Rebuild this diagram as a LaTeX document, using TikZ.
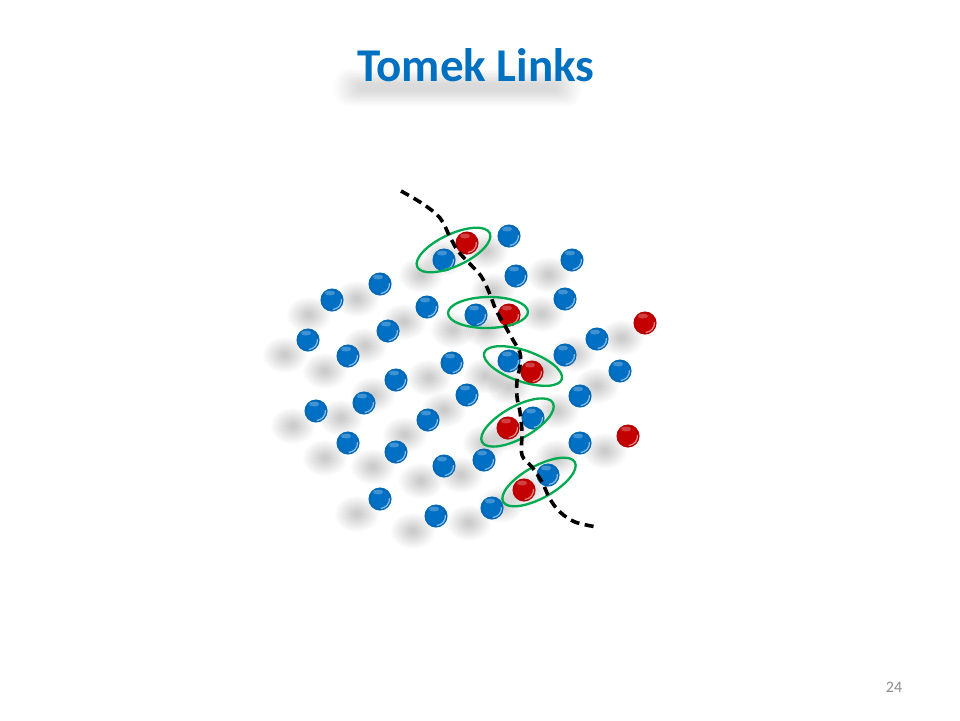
\documentclass[tikz,border=0pt]{standalone}
\usepackage{fontspec}
\setmainfont{Carlito}
\definecolor{titleblue}{RGB}{0,112,192}
\definecolor{ballblue}{RGB}{0,112,196}
\definecolor{ballred}{RGB}{196,0,0}
\definecolor{linkgreen}{RGB}{0,170,80}
\definecolor{pagegray}{RGB}{140,140,140}
\newcommand\myshadow[2]{%
  \foreach \r in {4,6,...,22}{\fill[black,opacity=0.02] ({#1-23},{#2+15}) ellipse ({\r} and {\r*0.8});}}
\newcommand\myball[3]{%
  \fill[#3] (#1,#2) circle (11.5);
  \fill[#3!80!black,opacity=0.35,even odd rule] (#1,#2) circle (11.5) (#1,#2) circle (9.5);
  \draw[white,opacity=0.55,line width=1.2pt] ({#1+9.5*cos(-5)},{#2+9.5*sin(-5)}) arc[start angle=-5,end angle=85,radius=9.5];
  \fill[white,opacity=0.25] ({#1-2},{#2-7}) ellipse (5 and 2.5);}
\tikzset{linkellipse/.style={draw=linkgreen,line width=2.3pt},
  boundary/.style={draw=black,line width=3.6pt,dash pattern=on 9pt off 5.5pt}}
\begin{document}
\begin{tikzpicture}[x=1pt,y=-1pt]
\useasboundingbox[fill=white] (0,0) rectangle (960,720);
% title shadow (blurred band)
\foreach \i in {0,1,...,11}{
  \fill[black,opacity=0.012,rounded corners={15-\i}] ({334+2.2*\i},{69+1.3*\i}) rectangle ({582-2.2*\i},{106-1.3*\i});}
\node (title) [anchor=base,font=\fontsize{47}{47}\selectfont\bfseries,text=titleblue] at (476,81) {Tomek Links};
\node (page) [anchor=base,font=\fontsize{16}{16}\selectfont,text=pagegray] at (894,692) {24};
% shadows
\foreach \x/\y in {509/236,572/260,516/276,444/260,380/284,332/300,427/307,476/315,565/299,
  308/340,388/331,348/356,452/363,509/361,565/355,597/339,620/371,396/380,467/395,580/396,
  316/411,364/403,428/420,533/418,348/443,396/452,444/466,484/460,580/443,548/475,380/499,
  436/516,492/508,467/243,509/315,532/372,508/428,524/490,645/323,628/436}{\myshadow{\x}{\y}}
% blue balls
\foreach \x/\y in {509/236,572/260,516/276,444/260,380/284,332/300,427/307,476/315,565/299,
  308/340,388/331,348/356,452/363,509/361,565/355,597/339,620/371,396/380,467/395,580/396,
  316/411,364/403,428/420,533/418,348/443,396/452,444/466,484/460,580/443,548/475,380/499,
  436/516,492/508}{\myball{\x}{\y}{ballblue}}
% red balls
\foreach \x/\y in {467/243,509/315,532/372,508/428,524/490,645/323,628/436}{\myball{\x}{\y}{ballred}}
% Tomek link ellipses
\draw[linkellipse,rotate around={25:(453.5,250)}] (453.5,250) ellipse [x radius=40,y radius=16];
\draw[linkellipse,rotate around={1:(488,312.5)}] (488,312.5) ellipse [x radius=40,y radius=15.5];
\draw[linkellipse,rotate around={-19:(523,366)}] (523,366) ellipse [x radius=41,y radius=15.5];
\draw[linkellipse,rotate around={29:(517.5,422.5)}] (517.5,422.5) ellipse [x radius=40.5,y radius=16];
\draw[linkellipse,rotate around={29:(539,482)}] (539,482) ellipse [x radius=41,y radius=16];
% class boundary
\draw[boundary] plot[smooth,tension=0.6] coordinates {(401,191) (423,204) (440,218) (450,237) (458,251)
  (470,264) (481,276) (489,292) (496,310) (505,326) (513,340) (520,353) (520,366) (517,381)
  (517,397) (520,412) (522,432) (522,455) (532,467) (542,482) (550,499) (560,512) (575,522) (597,527)};
\end{tikzpicture}
\end{document}
